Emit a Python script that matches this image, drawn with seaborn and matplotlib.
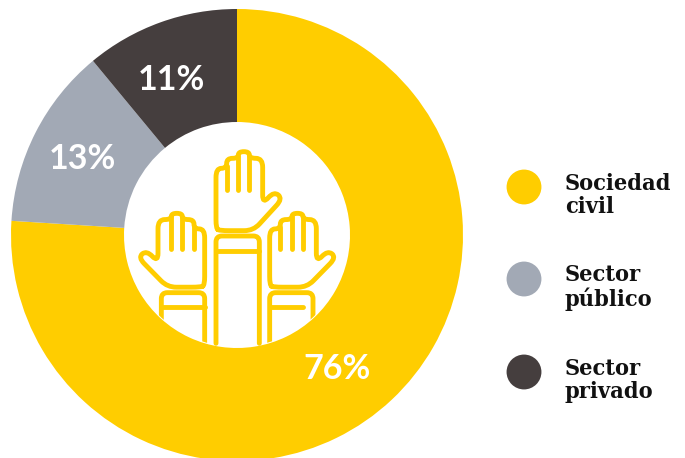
import matplotlib
matplotlib.use("Agg")
import matplotlib.pyplot as plt
from matplotlib.path import Path
from matplotlib.patches import PathPatch, Circle
import pandas as pd
import seaborn as sns

sectors = ["Sociedad\ncivil", "Sector\npúblico", "Sector\nprivado"]
shares = [76, 13, 11]
colors = ["#FFCD00", "#A2A9B5", "#453E3E"]

sns.set_theme(style="white")
fig = plt.figure(figsize=(6.85, 4.58), dpi=100)

# pie axes, y goes up, units are pixels
ax = fig.add_axes([0, 0, 1, 1])
ax.pie(shares, colors=colors, startangle=90, counterclock=False, radius=226, center=(237, 458 - 235),
       wedgeprops={"width": 113, "linewidth": 0}, frame=True)
ax.set_xlim(0, 685)
ax.set_ylim(0, 458)
ax.axis("off")

# overlay in picture pixels, y goes down
top = fig.add_axes([0, 0, 1, 1])
top.set_xlim(0, 685)
top.set_ylim(458, 0)
top.axis("off")
top.patch.set_alpha(0)

label_pos = [(337, 369), (82, 159), (171, 80)]
for v, (x, y) in zip(shares, label_pos):
    top.text(x, y, f"{v}%", color="white", ha="center", va="center", fontsize=24.5,
             family="Lato", fontweight="bold")

legend_df = pd.DataFrame({"sector": sectors, "x": [524] * 3, "y": [187, 279, 372]})
sns.scatterplot(data=legend_df, x="x", y="y", hue="sector", palette=colors, s=630, linewidth=0,
                legend=False, ax=top, clip_on=False)
top.set_xlim(0, 685)
top.set_ylim(458, 0)
top.axis("off")
for s, y in zip(sectors, legend_df["y"]):
    top.text(565, y + 8.5, s, color="#111111", ha="left", va="center", fontsize=16.8, linespacing=1.07,
             family="DejaVu Serif", fontweight="bold", stretch="condensed")


def rounded(pts, r, closed=False):
    # polyline with corners cut by quadratic curves
    n = len(pts)
    verts, codes = [], []
    idx = range(n) if closed else range(1, n - 1)
    if not closed:
        verts.append(pts[0])
        codes.append(Path.MOVETO)
    for i in idx:
        p0, p1, p2 = pts[i - 1], pts[i], pts[(i + 1) % n]
        d1 = ((p0[0] - p1[0]) ** 2 + (p0[1] - p1[1]) ** 2) ** 0.5
        d2 = ((p2[0] - p1[0]) ** 2 + (p2[1] - p1[1]) ** 2) ** 0.5
        r1, r2 = min(r, d1 / 2), min(r, d2 / 2)
        a = (p1[0] + (p0[0] - p1[0]) * r1 / d1, p1[1] + (p0[1] - p1[1]) * r1 / d1)
        b = (p1[0] + (p2[0] - p1[0]) * r2 / d2, p1[1] + (p2[1] - p1[1]) * r2 / d2)
        verts.append(a)
        codes.append(Path.MOVETO if closed and i == 0 else Path.LINETO)
        verts += [p1, b]
        codes += [Path.CURVE3, Path.CURVE3]
    if closed:
        verts.append(verts[0])
        codes.append(Path.LINETO)
    else:
        verts.append(pts[-1])
        codes.append(Path.LINETO)
    return Path(verts, codes)


hole = Circle((237, 235), 112, transform=top.transData)
hand = [(288, 296), (288, 115), (320, 115), (320, 85), (355, 85), (355, 65), (388, 65), (388, 85), (428, 85),
        (428, 222), (462, 184), (488, 206), (400, 302), (300, 302)]
fingers = [[(320, 108), (320, 180)], [(355, 78), (355, 180)], [(388, 78), (388, 180)]]


def stroke(pts, fx, fy, r=0.0, closed=False, clip=False):
    # zoom-crop coords -> picture pixels
    mapped = [(120 + fx(x) / 3, 130 + fy(y) / 3) for x, y in pts]
    path = rounded(mapped, r, closed) if r else Path(mapped)
    patch = PathPatch(path, fill=False, edgecolor=colors[0], linewidth=3.5, capstyle="round", joinstyle="round")
    top.add_patch(patch)
    if clip:
        patch.set_clip_path(hole)


def draw_hand(fx, fy):
    stroke(hand, fx, fy, r=9, closed=True)
    for f in fingers:
        stroke(f, fx, fy)


def draw_sleeve(fx, dy, band_end=418):
    yy = lambda y: y + dy
    stroke([(288, 700), (288, 318), (418, 318), (418, 700)], fx, yy, r=6, clip=True)
    stroke([(288, 362), (band_end, 362)], fx, yy)


# middle hand
ident = lambda v: v
draw_hand(ident, ident)
stroke([(288, 640), (288, 318), (418, 318), (418, 640)], ident, ident, r=6)
stroke([(288, 362), (418, 362)], ident, ident)

# left hand is mirrored, both side hands are a bit shorter
small_y = lambda y: 250 + (y - 65) * 0.935
mirror = lambda x: 170 + (372 - x)
draw_hand(mirror, small_y)
draw_sleeve(mirror, 170)

shift = lambda x: x + 161
draw_hand(shift, small_y)
draw_sleeve(shift, 170, band_end=388)

fig.savefig("out.png", dpi=100)
